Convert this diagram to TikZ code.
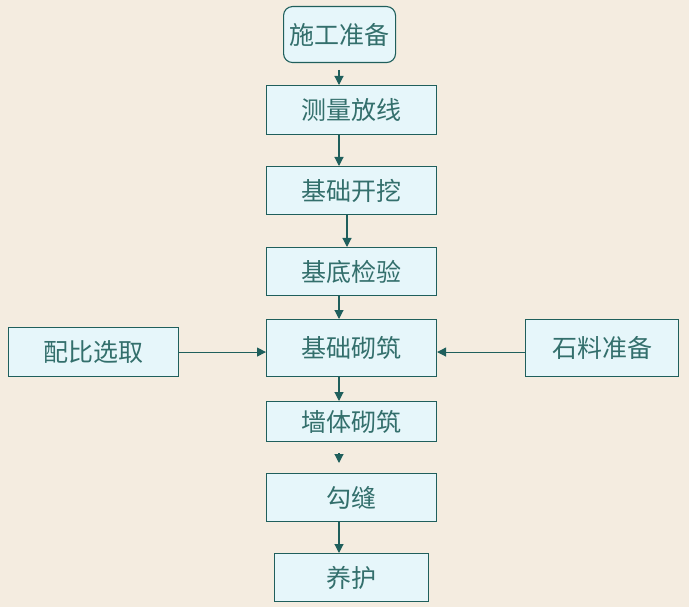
\documentclass[tikz,border=0pt]{standalone}
\usepackage{fontspec}
\newfontfamily\cjk{Noto Sans CJK SC}
\usetikzlibrary{arrows.meta}
\definecolor{bgx}{HTML}{F4ECE0}
\definecolor{boxfill}{HTML}{E6F6FA}
\definecolor{tlx}{HTML}{1F5F5C}
\definecolor{txx}{HTML}{336F6C}

\begin{document}
\begin{tikzpicture}[
        x=1pt,y=-1pt,
        stepbox/.style={
            draw=tlx,line width=1.1pt,fill=boxfill,text=txx,
            font=\cjk\fontsize{25}{30}\selectfont,
            inner sep=0pt,anchor=north west
        },
        flow/.style={
            draw=tlx,line width=1.1pt,
            -{Triangle[length=9pt,width=9pt]}
        }
    ]
    % background
    \fill[bgx] (0,0) rectangle (689,607);
    \useasboundingbox (0,0) rectangle (689,607);
    \coordinate (axis) at (339,0);
    \coordinate (axisb) at (347,0);
    % steps
    \node[stepbox,rounded corners=9pt,minimum width=112pt,minimum height=56pt]
        (prep) at (283,6) {施工准备};
    \node[stepbox,minimum width=170pt,minimum height=49pt]
        (survey) at (266,85) {测量放线};
    \node[stepbox,minimum width=170pt,minimum height=48pt]
        (dig) at (266,166) {基础开挖};
    \node[stepbox,minimum width=170pt,minimum height=48pt]
        (check) at (266,247) {基底检验};
    \node[stepbox,minimum width=170pt,minimum height=57pt]
        (base) at (266,319) {基础砌筑};
    \node[stepbox,minimum width=170pt,minimum height=49pt]
        (mix) at (8,327) {配比选取};
    \node[stepbox,minimum width=153pt,minimum height=57pt]
        (stone) at (525,319) {石料准备};
    \node[stepbox,minimum width=170pt,minimum height=40pt]
        (wall) at (266,401) {墙体砌筑};
    \node[stepbox,minimum width=170pt,minimum height=48pt]
        (joint) at (266,473) {勾缝};
    \node[stepbox,minimum width=154pt,minimum height=48pt]
        (cure) at (274,553) {养护};
    % arrows
    \coordinate (s1) at (339,70);
    \draw[flow] (s1) -- (survey.north -| axis);
    \draw[flow] (survey.south -| axis) -- (dig.north -| axis);
    \draw[flow] (dig.south -| axisb) -- (check.north -| axisb);
    \draw[flow] (check.south -| axis) -- (base.north -| axis);
    \draw[flow] (mix) -- (base.west |- mix);
    \draw[flow] (stone.west |- mix) -- (base.east |- mix);
    \draw[flow] (base.south -| axis) -- (wall.north -| axis);
    \coordinate (s2) at (339,453);
    \coordinate (t2) at (339,463);
    \draw[flow] (s2) -- (t2);
    \draw[flow] (joint.south -| axis) -- (cure.north -| axis);
\end{tikzpicture}
\end{document}
